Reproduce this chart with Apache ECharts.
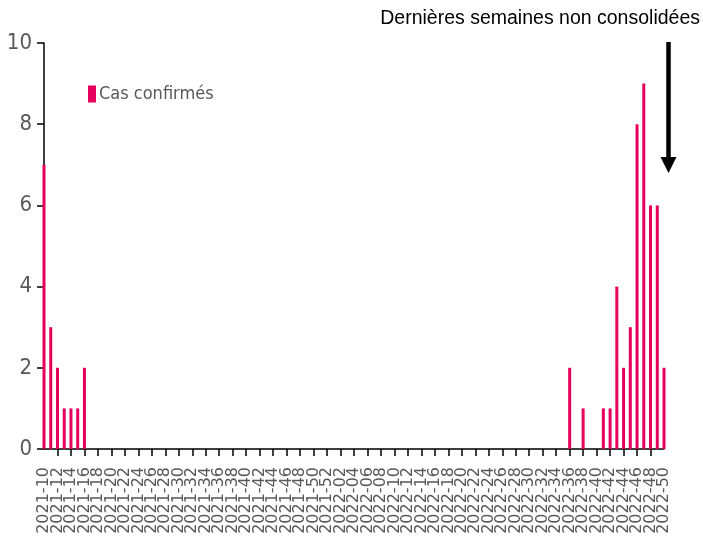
<!DOCTYPE html>
<html><head><meta charset="utf-8">
<script src="https://cdn.jsdelivr.net/npm/echarts@6/dist/echarts.min.js"></script>
<style>html,body{margin:0;padding:0;background:#fff}#c{width:703px;height:543px}</style>
</head><body><div id="c"></div>
<script>
const weeks2021 = ["2021-10","2021-11","2021-12","2021-13","2021-14","2021-15","2021-16","2021-17","2021-18","2021-19","2021-20","2021-21","2021-22","2021-23","2021-24","2021-25","2021-26","2021-27","2021-28","2021-29","2021-30","2021-31","2021-32","2021-33","2021-34","2021-35","2021-36","2021-37","2021-38","2021-39","2021-40","2021-41","2021-42","2021-43","2021-44","2021-45","2021-46","2021-47","2021-48","2021-49","2021-50","2021-51","2021-52"];
const weeks2022 = ["2022-01","2022-02","2022-03","2022-04","2022-05","2022-06","2022-07","2022-08","2022-09","2022-10","2022-11","2022-12","2022-13","2022-14","2022-15","2022-16","2022-17","2022-18","2022-19","2022-20","2022-21","2022-22","2022-23","2022-24","2022-25","2022-26","2022-27","2022-28","2022-29","2022-30","2022-31","2022-32","2022-33","2022-34","2022-35","2022-36","2022-37","2022-38","2022-39","2022-40","2022-41","2022-42","2022-43","2022-44","2022-45","2022-46","2022-47","2022-48","2022-49","2022-50"];
const cases2021 = [7,3,2,1,1,1,2,0,0,0,0,0,0,0,0,0,0,0,0,0,0,0,0,0,0,0,0,0,0,0,0,0,0,0,0,0,0,0,0,0,0,0,0];
const cases2022 = [0,0,0,0,0,0,0,0,0,0,0,0,0,0,0,0,0,0,0,0,0,0,0,0,0,0,0,0,0,0,0,0,0,0,0,2,0,1,0,0,1,1,4,2,3,8,9,6,6,2];
const yTicks = [0,2,4,6,8,10];
const seriesName = "Cas confirmés";
const annotation = "Dernières semaines non consolidées";

const categories = weeks2021.concat(weeks2022);
const values = cases2021.concat(cases2022);
const lastIdx = categories.length - 1;
const narrow = "'Liberation Sans Narrow','DejaVu Sans Condensed',sans-serif";
const everyOther = function (i) { return i % 2 === 0; };
const endsOnly = function (i) { return i === 0 || i === lastIdx; };
const labelStyle = {rotate:90,margin:18,color:'#595959',fontSize:16,hideOverlap:false,fontFamily:"'DejaVu Sans',sans-serif"};

const chart = echarts.init(document.getElementById('c'), null, {renderer:'canvas'});
chart.setOption({
  animation:false,
  backgroundColor:'#ffffff',
  grid:{left:44,right:39,top:43,bottom:94,containLabel:false},
  legend:{
    data:[seriesName], left:83, top:80, icon:'rect', itemWidth:8, itemHeight:17, itemGap:4,
    textStyle:{color:'#595959',fontSize:18,fontFamily:narrow,padding:[0,0,0,-2]}
  },
  xAxis:[{
    type:'category', data:categories, boundaryGap:false, position:'bottom',
    axisLine:{lineStyle:{color:'#000',width:1.5}},
    axisTick:{show:true,interval:everyOther,length:7,lineStyle:{color:'#000',width:1.5}},
    axisLabel:Object.assign({interval:everyOther,showMinLabel:false,showMaxLabel:false}, labelStyle),
    splitLine:{show:false}
  },{
    type:'category', data:categories, boundaryGap:false, position:'bottom', offset:0,
    axisLine:{show:false}, axisTick:{show:false},
    axisLabel:Object.assign({interval:endsOnly,showMinLabel:true,showMaxLabel:true}, labelStyle),
    splitLine:{show:false}
  }],
  yAxis:{
    type:'value', min:yTicks[0], max:yTicks[yTicks.length-1], interval:2,
    axisLine:{show:true,lineStyle:{color:'#000',width:1.5}},
    axisTick:{show:true,length:7,lineStyle:{color:'#000',width:1.5}},
    axisLabel:{color:'#595959',fontSize:22,fontFamily:narrow,margin:12},
    splitLine:{show:false}
  },
  series:[{
    name:seriesName, type:'bar', xAxisIndex:0, data:values, barWidth:3,
    itemStyle:{color:'#E6005C'}, z:3
  }],
  graphic:[
    {type:'text', right:3, top:9, style:{text:annotation, fill:'#000', font:"19.5px 'Liberation Sans', Arial, sans-serif"}},
    {type:'line', shape:{x1:668.5,y1:42,x2:668.5,y2:160}, style:{stroke:'#000',lineWidth:4.5}},
    {type:'polygon', shape:{points:[[660.5,157],[676.5,157],[668.5,173]]}, style:{fill:'#000'}}
  ]
});
</script></body></html>
